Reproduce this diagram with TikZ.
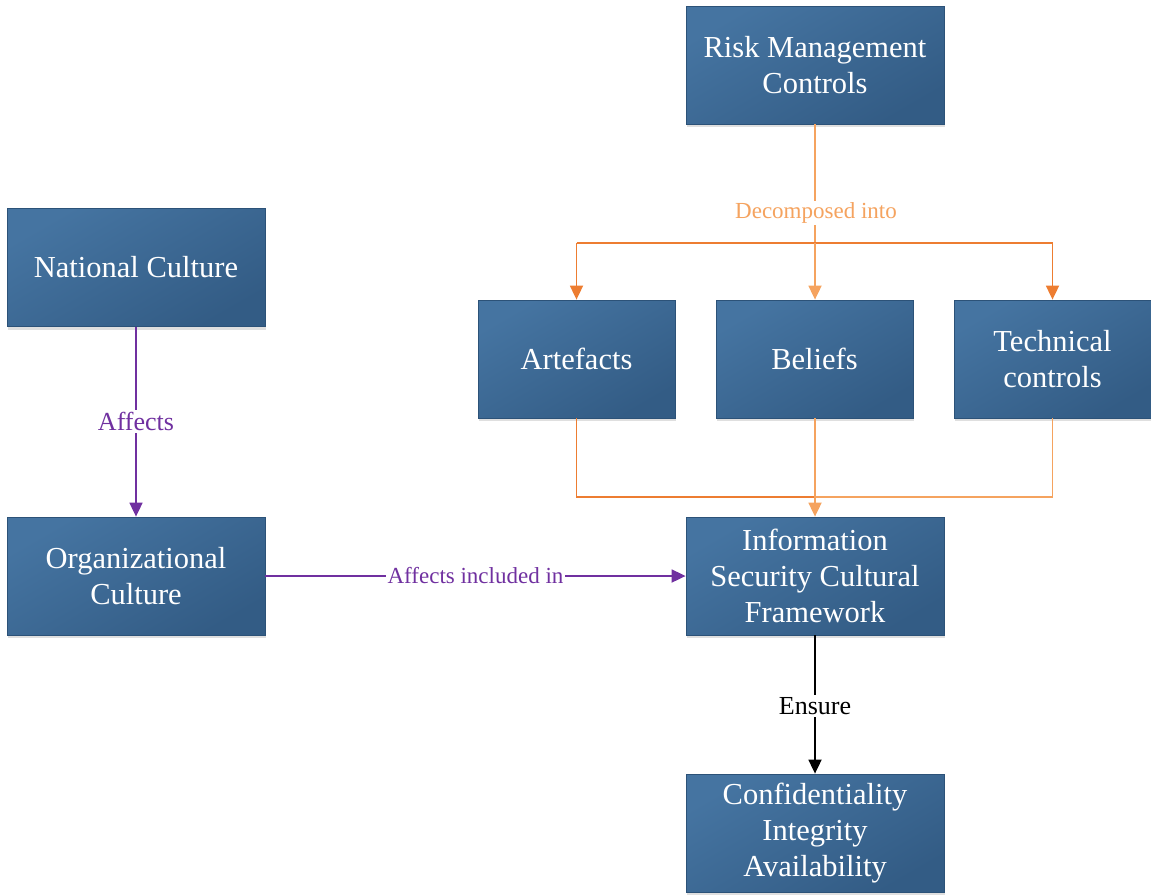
\documentclass[tikz,border=0pt]{standalone}
\usepackage{fontspec}
\setmainfont{Liberation Serif}
\usetikzlibrary{arrows.meta,shadows}
\definecolor{boxtop}{HTML}{4574A1}
\definecolor{boxbot}{HTML}{335C85}
\definecolor{boxline}{HTML}{2C5278}
\definecolor{orD}{HTML}{ED7D31}
\definecolor{orL}{HTML}{F5A35F}
\definecolor{purp}{HTML}{7030A0}
\tikzset{
  box/.style={draw=boxline, line width=0.8pt, top color=boxtop, bottom color=boxbot, shading angle=30,
    minimum width=258pt, minimum height=118pt, inner sep=0pt, align=center, text=white,
    font=\fontsize{30.5}{36}\selectfont,
    drop shadow={shadow xshift=1pt, shadow yshift=-3pt, fill=black!25, opacity=0.5}},
  conn/.style={line width=1.8pt},
  arr/.style={conn, -{Triangle[length=14pt,width=13pt]}},
  lab/.style={fill=white, inner sep=2pt, font=\fontsize{23}{26}\selectfont},
  labbig/.style={fill=white, inner sep=2pt, font=\fontsize{26}{30}\selectfont}
}
\begin{document}
\begin{tikzpicture}[x=1pt,y=-1pt]
\useasboundingbox (0,0) rectangle (1151,895);
\node[box] (risk) at (815,65) {Risk Management\\Controls};
\node[box] (nat) at (136,267.5) {National Culture};
\node[box, minimum width=197pt] (art) at (576.5,359) {Artefacts};
\node[box, minimum width=197pt] (bel) at (814.5,359) {Beliefs};
\node[box, minimum width=197pt] (tech) at (1052.5,359) {Technical\\controls};
\node[box] (org) at (136,576) {Organizational\\Culture};
\node[box] (iscf) at (815,576) {Information\\Security Cultural\\Framework};
\node[box] (cia) at (815,833) {Confidentiality\\Integrity\\Availability};

\coordinate (split) at (815,243);
\coordinate (splitL) at (576.5,243);
\coordinate (splitR) at (1052.5,243);
\coordinate (joinL) at (576.5,497);
\coordinate (joinR) at (1052.5,497);
\coordinate (join) at (815,497);

% decomposition
\draw[conn, orL] (risk.south) -- (split);
\draw[conn, orD] (splitL) -- (splitR);
\draw[arr, orD] (splitL) -- (art.north -| splitL);
\draw[arr, orL] (split) -- (bel.north -| split);
\draw[arr, orD] (splitR) -- (tech.north -| splitR);
\node[lab, text=orL] (dec) at (816,213) {Decomposed into};

% join
\draw[conn, orD] (art.south) -- (joinL) -- (join);
\draw[conn, orL] (tech.south) -- (joinR) -- (join);
\draw[arr, orL] (bel.south -| join) -- (iscf.north);

% purple
\draw[arr, purp] (nat.south) -- node[labbig, text=purp, pos=0.5] {Affects} (org.north);
\draw[arr, purp] (org.east) -- node[lab, text=purp, pos=0.5] {Affects included in} (iscf.west);

% ensure
\draw[arr, black] (iscf.south) -- node[labbig, pos=0.51] {Ensure} (cia.north);
\end{tikzpicture}
\end{document}
